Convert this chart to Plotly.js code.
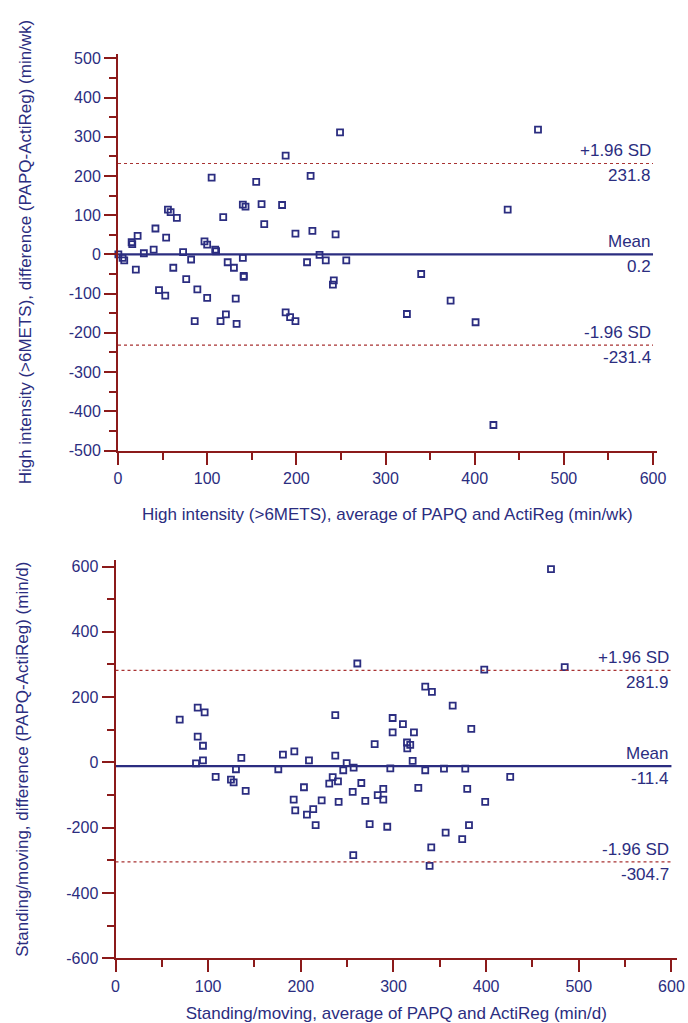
<!DOCTYPE html>
<html>
<head>
<meta charset="utf-8">
<script src="https://cdn.plot.ly/plotly-3.0.1.min.js"></script>
<style>html,body{margin:0;padding:0;background:#fff;}#chart{width:688px;height:1023px;}</style>
</head>
<body>
<div id="chart"></div>
<script>
// ---- Top panel: High intensity (>6METS), min/wk ----
const hiAvg = [0.4, 5.2, 7, 15.3, 16, 22, 20, 29, 40, 42, 46, 53, 54, 56, 59, 66, 62, 73, 76.5, 82,
  86, 89, 97, 100, 100, 105, 109, 110, 115, 118, 121, 123, 130, 132, 133, 140, 140, 141, 141, 143,
  155, 161, 164, 184, 188, 188, 193, 199, 199, 212, 216, 218, 226, 233, 241, 242, 244, 249, 256,
  324, 340, 373, 401, 421, 437, 471];
const hiDiff = [0, -9, -15, 31, 26, 47, -39, 3, 12, 66, -91, -105, 43, 114, 108, 93, -34, 6, -63, -13,
  -170, -89, 33, 25, -111, 196, 12, 8, -170, 95, -153, -20, -34, -113, -177, 127, -9, -55, -57, 122,
  185, 128, 77, 126, 252, -148, -160, 53, -170, -20, 200, 60, -1, -15, -77, -66, 51, 311, -15,
  -152, -50, -118, -173, -435, 114, 318];
const hiStats = [231.8, 0.2, -231.4];
const hiStatLabels = ["+1.96 SD", "Mean", "-1.96 SD"];
const hiXTicks = [0, 100, 200, 300, 400, 500, 600];
const hiYTicks = [-500, -400, -300, -200, -100, 0, 100, 200, 300, 400, 500];

// ---- Bottom panel: Standing/moving, min/d ----
const smAvg = [69.3, 88.7, 96.2, 88.7, 94.4, 86.9, 94.4, 108.1, 124.6, 127.5, 130, 135.8, 140.5, 175.7,
  180.7, 193, 192.3, 194, 203.4, 206.6, 208.8, 213.4, 216, 222.5, 230.7, 234.4, 237.2, 237.2, 240.1,
  240.8, 245.8, 249.5, 256, 256.6, 257, 261, 265.3, 269.6, 274.3, 279.7, 283, 289, 289, 293.3, 296.6,
  299.1, 299.1, 310.2, 314.6, 318.1, 314.9, 320.7, 322.1, 326.8, 334.3, 334.3, 339, 340.8, 341.5,
  354.5, 356.3, 363.9, 374.2, 377.5, 379.6, 381.5, 384, 398, 399, 426, 470, 484.8];
const smDiff = [131, 168, 153, 79, 51, -3, 6, -44, -53, -61, -21, 14, -87, -21,
  24, 34, -114, -147, -76, -160, 6, -143, -192, -116, -65, -45, 145, 21, -58,
  -121, -24, -2, -90, -284, -16, 303, -63, -118, -189, 56, -100, -81, -114, -197, -18,
  136, 92, 117, 61, 54, 43, 5, 92, -78, 232, -24, -317, -260, 216,
  -19, -215, 174, -235, -19, -81, -192, 103, 284, -121, -44, 592, 292];
const smStats = [281.9, -11.4, -304.7];
const smStatLabels = ["+1.96 SD", "Mean", "-1.96 SD"];
const smXTicks = [0, 100, 200, 300, 400, 500, 600];
const smYTicks = [-600, -400, -200, 0, 200, 400, 600];

const xTitles = ["High intensity (>6METS), average of PAPQ and ActiReg (min/wk)",
                 "Standing/moving, average of PAPQ and ActiReg (min/d)"];
const yTitles = ["High intensity (>6METS), difference (PAPQ-ActiReg) (min/wk)",
                 "Standing/moving, difference (PAPQ-ActiReg) (min/d)"];

const NAVY = "#2b2d80";
const AXRED = "#8b1a1a";
const DOTRED = "#a83232";
const FONT = "Liberation Sans, Arial, sans-serif";
const LINE_END = 600;

function statTraces(stats, xa, ya) {
  const out = [];
  stats.forEach((v, i) => {
    const isMean = i === 1;
    out.push({
      x: [0, LINE_END], y: [v, v], xaxis: xa, yaxis: ya, mode: "lines", hoverinfo: "skip",
      line: isMean ? {color: NAVY, width: 2.2} : {color: DOTRED, width: 1.2, dash: "dot"},
      showlegend: false
    });
  });
  return out;
}
function statAnnots(stats, labels, xr, yr) {
  const out = [];
  stats.forEach((v, i) => {
    out.push({x: LINE_END, y: v, xref: xr, yref: yr, text: labels[i], showarrow: false,
      xanchor: "right", yanchor: "bottom", yshift: 1, font: {family: FONT, size: 17, color: NAVY}});
    out.push({x: LINE_END, y: v, xref: xr, yref: yr, text: v.toFixed(1), showarrow: false,
      xanchor: "right", yanchor: "top", yshift: -1, font: {family: FONT, size: 17, color: NAVY}});
  });
  return out;
}
const lbl = arr => arr.map(v => String(v));  // plain hyphen-minus like the original

const marker = {symbol: "square-open", size: 6, color: NAVY, line: {color: NAVY, width: 1.8}};
const data = [
  {x: hiAvg, y: hiDiff, xaxis: "x", yaxis: "y", mode: "markers", marker: marker, showlegend: false, cliponaxis: false},
  ...statTraces(hiStats, "x", "y"),
  {x: smAvg, y: smDiff, xaxis: "x2", yaxis: "y2", mode: "markers", marker: marker, showlegend: false, cliponaxis: false},
  ...statTraces(smStats, "x2", "y2")
];

function axisBase(extra) {
  return Object.assign({
    showgrid: false, zeroline: false, showline: true, linecolor: AXRED, linewidth: 2,
    ticks: "outside", ticklen: 12, tickwidth: 2, tickcolor: AXRED,
    tickfont: {family: FONT, size: 16, color: NAVY},
    automargin: false, fixedrange: true, tickmode: "array"
  }, extra);
}
const minorOf = d => ({dtick: d, tick0: 0, tickmode: "linear", ticks: "outside", ticklen: 7, tickwidth: 2, tickcolor: AXRED, showgrid: false});
const W = 688, H = 1023;
const TF = {family: FONT, size: 17, color: NAVY};
const layout = {
  width: W, height: H,
  margin: {l: 0, r: 0, t: 0, b: 0},
  paper_bgcolor: "#ffffff", plot_bgcolor: "#ffffff",
  font: {family: FONT, color: NAVY},
  xaxis: axisBase({domain: [118 / W, 656.6 / W], range: [0, 604], anchor: "y",
    tickvals: hiXTicks, ticktext: lbl(hiXTicks), minor: minorOf(50),
    title: {text: xTitles[0], font: TF, standoff: 22}}),
  yaxis: axisBase({domain: [1 - 450.5 / H, 1 - 53.6 / H], range: [-500, 512], anchor: "x",
    tickvals: hiYTicks, ticktext: lbl(hiYTicks), minor: minorOf(50),
    title: {text: yTitles[0], font: TF, standoff: 33}}),
  xaxis2: axisBase({domain: [115.5 / W, 677 / W], range: [0, 606], anchor: "y2",
    tickvals: smXTicks, ticktext: lbl(smXTicks), minor: minorOf(50),
    title: {text: xTitles[1], font: TF, standoff: 14}}),
  yaxis2: axisBase({domain: [1 - 958.3 / H, 1 - 560 / H], range: [-600, 620], anchor: "x2",
    tickvals: smYTicks, ticktext: lbl(smYTicks), minor: minorOf(100),
    title: {text: yTitles[1], font: TF, standoff: 33}}),
  annotations: [...statAnnots(hiStats, hiStatLabels, "x", "y"), ...statAnnots(smStats, smStatLabels, "x2", "y2")]
};
Plotly.newPlot("chart", data, layout, {displayModeBar: false, staticPlot: true});
</script>
</body>
</html>
